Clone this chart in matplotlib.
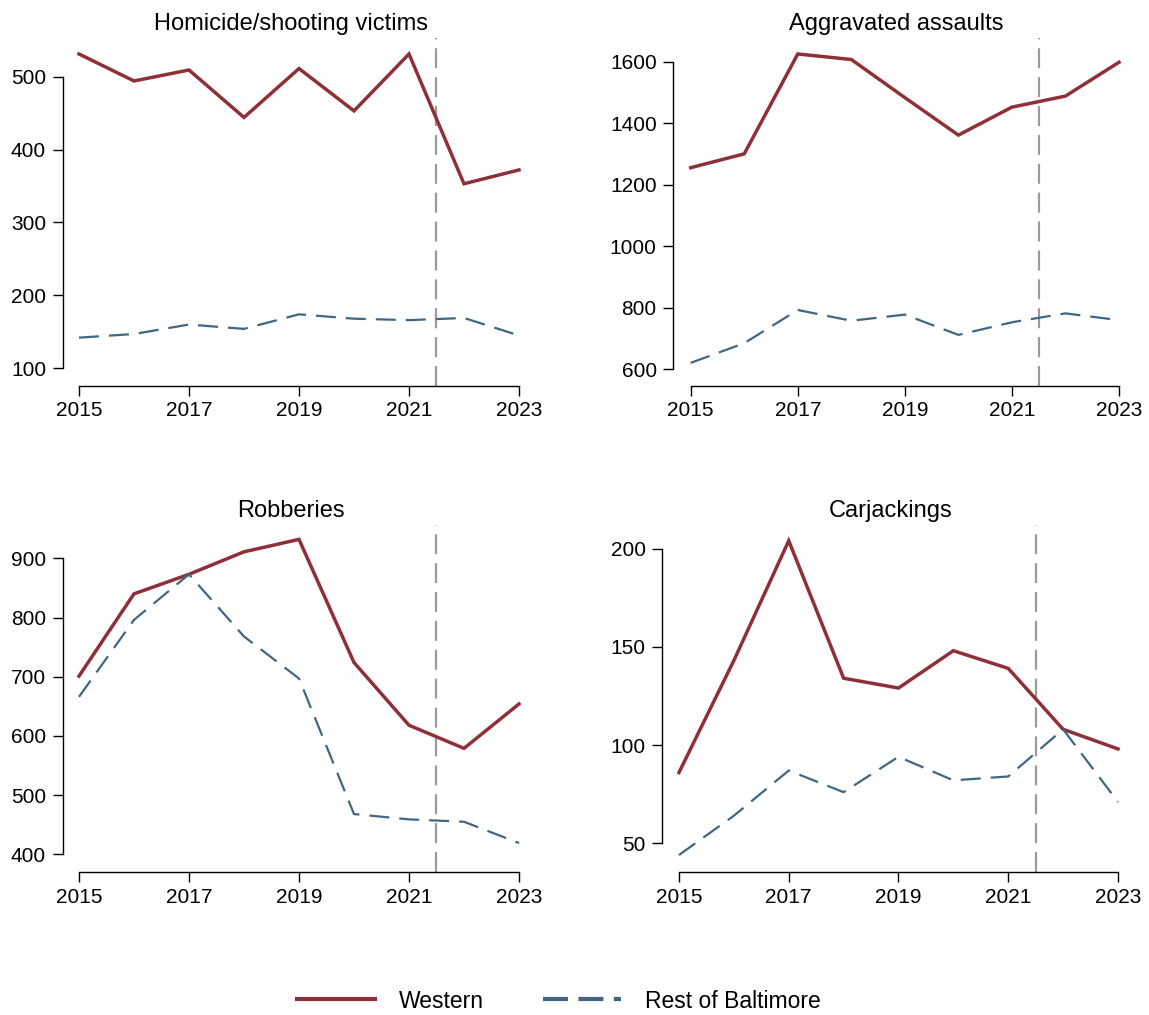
import matplotlib.pyplot as plt
from matplotlib.lines import Line2D

plt.rcParams['font.family'] = ['Liberation Sans', 'DejaVu Sans']

years = [2015, 2016, 2017, 2018, 2019, 2020, 2021, 2022, 2023]
year_ticks = [2015, 2017, 2019, 2021, 2023]
cutoff = 2021.5

homicide_western = [531, 494, 509, 444, 511, 453, 531, 353, 372]
homicide_rest = [142, 147, 160, 154, 174, 168, 166, 169, 145]

assault_western = [1255, 1300, 1625, 1607, 1483, 1361, 1452, 1488, 1598]
assault_rest = [620, 684, 792, 757, 777, 711, 752, 781, 759]

robbery_western = [701, 840, 873, 911, 932, 724, 618, 579, 654]
robbery_rest = [666, 796, 873, 768, 697, 468, 459, 455, 419]

carjack_western = [86, 143, 204, 134, 129, 148, 139, 108, 98]
carjack_rest = [44, 64, 87, 76, 94, 82, 84, 108, 71]

red = '#8f3039'
blue = '#3f6783'
grey = '#9b9b9b'

W, H = 1149, 1015
fig = plt.figure(figsize=(W / 100, H / 100), dpi=100)


def add_panel(px_left, px_right, px_top, px_bottom, xlim, ylim, yticks, title,
              western, rest):
    ax = fig.add_axes([px_left / W, 1 - px_bottom / H,
                       (px_right - px_left) / W, (px_bottom - px_top) / H])
    ax.plot(years, western, color=red, lw=2.5, solid_joinstyle='miter',
            clip_on=False, zorder=3)
    ax.plot(years, rest, color=blue, lw=1.6, dashes=(9, 4.5), clip_on=False,
            zorder=4)
    ax.axvline(cutoff, color=grey, lw=1.6, dashes=(9, 4), zorder=2)
    ax.set_xlim(*xlim)
    ax.set_ylim(*ylim)
    ax.set_xticks(year_ticks)
    ax.set_yticks(yticks)
    for side in ('top', 'right'):
        ax.spines[side].set_visible(False)
    ax.spines['left'].set_bounds(yticks[0], yticks[-1])
    ax.spines['bottom'].set_bounds(year_ticks[0], year_ticks[-1])
    for side in ('left', 'bottom'):
        ax.spines[side].set_linewidth(1.0)
    ax.tick_params(length=7, width=1.0, labelsize=15, pad=4)
    ax.tick_params(axis='y', pad=5)
    ax.set_title(title, fontsize=17, pad=6)
    return ax


add_panel(62.7, 519, 38.3, 386, (2014.704, 2023), (75.7, 552.5),
          [100, 200, 300, 400, 500], 'Homicide/shooting victims',
          homicide_western, homicide_rest)
add_panel(673.3, 1119, 38.3, 386, (2014.675, 2023), (544.7, 1676),
          [600, 800, 1000, 1200, 1400, 1600], 'Aggravated assaults',
          assault_western, assault_rest)
add_panel(62.7, 519, 525, 872.3, (2014.704, 2023), (369.6, 956.3),
          [400, 500, 600, 700, 800, 900], 'Robberies',
          robbery_western, robbery_rest)
add_panel(662.3, 1118, 525, 872.3, (2014.696, 2023), (35.2, 212),
          [50, 100, 150, 200], 'Carjackings',
          carjack_western, carjack_rest)

handles = [Line2D([], [], color=red, lw=3),
           Line2D([], [], color=blue, lw=3, dashes=(6, 2.5))]
fig.legend(handles, ['Western', 'Rest of Baltimore'], loc='center',
           bbox_to_anchor=(559 / W, 1 - 1001 / H), ncol=2, frameon=False,
           fontsize=16.5, handlelength=3.4, handletextpad=1.05,
           columnspacing=2.6)

plt.savefig('out.png', dpi=100)
